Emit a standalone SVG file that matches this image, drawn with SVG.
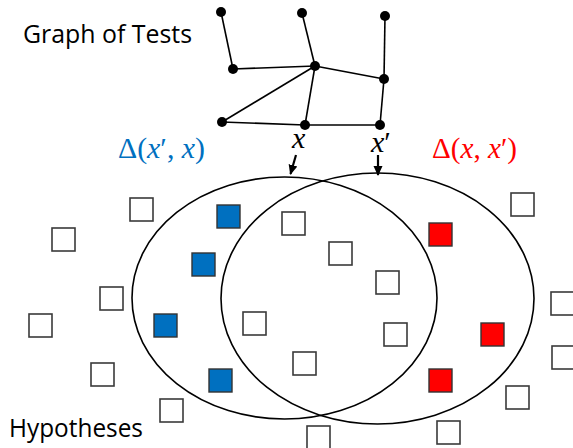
<svg xmlns="http://www.w3.org/2000/svg" width="573" height="448" viewBox="0 0 573 448">
<style>
.lbl{font-family:"Open Sans","Liberation Sans",sans-serif;font-size:25px;fill:#000}
.math{font-family:"Liberation Serif","DejaVu Serif",serif;font-size:30px}
.it{font-style:italic}
.edge{stroke:#000;stroke-width:1.6;fill:none}
.arr{stroke:#000;stroke-width:2.2;fill:none}
.gn{fill:#000}
.sq{fill:#fff;stroke:#3a3a3a;stroke-width:1.6}
.sqb{fill:#0070C0;stroke:#333;stroke-width:1.4}
.sqr{fill:#FF0000;stroke:#333;stroke-width:1.4}
.ell{fill:none;stroke:#000;stroke-width:1.6}
</style>
<defs>
<marker id="ah" viewBox="0 0 10 10" refX="9" refY="5" markerWidth="10" markerHeight="10" orient="auto" markerUnits="userSpaceOnUse">
<path d="M0,0.5 L10,5 L0,9.5 z" fill="#000"/>
</marker>
</defs>
<rect width="573" height="448" fill="#fff"/>

<g id="title"><text class="lbl" x="23" y="43" textLength="169" lengthAdjust="spacingAndGlyphs">Graph of Tests</text></g>
<g id="hyp-label"><text class="lbl" x="9" y="437" textLength="134" lengthAdjust="spacingAndGlyphs">Hypotheses</text></g>

<g id="ellipse-left"><ellipse class="ell" cx="284.5" cy="298" rx="152.5" ry="121"/></g>
<g id="ellipse-right"><ellipse class="ell" cx="377.5" cy="298.5" rx="156.5" ry="125.5"/></g>

<g id="connectors">
<line class="edge" x1="221" y1="12" x2="233" y2="69"/>
<line class="edge" x1="302" y1="13" x2="315" y2="66"/>
<line class="edge" x1="385" y1="16" x2="384" y2="79"/>
<line class="edge" x1="233" y1="69" x2="315" y2="66"/>
<line class="edge" x1="315" y1="66" x2="384" y2="79"/>
<line class="edge" x1="315" y1="66" x2="222" y2="122"/>
<line class="edge" x1="315" y1="66" x2="305" y2="125"/>
<line class="edge" x1="222" y1="122" x2="305" y2="125"/>
<line class="edge" x1="305" y1="125" x2="380" y2="125"/>
<line class="edge" x1="384" y1="79" x2="380" y2="125"/>
<line class="arr" x1="296" y1="155" x2="290.5" y2="174" marker-end="url(#ah)"/>
<line class="arr" x1="378" y1="155" x2="378" y2="175" marker-end="url(#ah)"/>
</g>

<g id="graph-nodes">
<g id="n1"><circle class="gn" cx="221" cy="12" r="5"/></g>
<g id="n2"><circle class="gn" cx="302" cy="13" r="5"/></g>
<g id="n3"><circle class="gn" cx="385" cy="16" r="5"/></g>
<g id="n4"><circle class="gn" cx="233" cy="69" r="5"/></g>
<g id="n5"><circle class="gn" cx="315" cy="66" r="5"/></g>
<g id="n6"><circle class="gn" cx="384" cy="79" r="5"/></g>
<g id="n7"><circle class="gn" cx="222" cy="122" r="5"/></g>
<g id="n8"><circle class="gn" cx="305" cy="125" r="5"/></g>
<g id="n9"><circle class="gn" cx="380" cy="125" r="5"/></g>
</g>

<g id="label-x"><text class="math it" x="292" y="148" font-size="30">x</text></g>
<g id="label-xp"><text class="math" x="371" y="152" font-size="30"><tspan class="it">x</tspan>′</text></g>

<g id="delta-blue"><text class="math" x="118" y="158" fill="#0070C0" textLength="87" lengthAdjust="spacingAndGlyphs">Δ(<tspan class="it">x</tspan>′, <tspan class="it">x</tspan>)</text></g>
<g id="delta-red"><text class="math" x="432" y="158" fill="#FF0000" textLength="85" lengthAdjust="spacingAndGlyphs">Δ(<tspan class="it">x</tspan>, <tspan class="it">x</tspan>′)</text></g>

<g id="hypotheses">
<g id="h1"><rect class="sq" x="130" y="198" width="23" height="23"/></g>
<g id="h2"><rect class="sq" x="52" y="228" width="23" height="23"/></g>
<g id="h3"><rect class="sq" x="100" y="287" width="23" height="23"/></g>
<g id="h4"><rect class="sq" x="29" y="314" width="23" height="23"/></g>
<g id="h5"><rect class="sq" x="91" y="363" width="23" height="23"/></g>
<g id="h6"><rect class="sq" x="160" y="399" width="23" height="23"/></g>
<g id="b1"><rect class="sqb" x="217" y="205" width="23" height="23"/></g>
<g id="b2"><rect class="sqb" x="192" y="253" width="23" height="23"/></g>
<g id="b3"><rect class="sqb" x="154" y="314" width="23" height="23"/></g>
<g id="b4"><rect class="sqb" x="209" y="369" width="23" height="23"/></g>
<g id="h7"><rect class="sq" x="243" y="312" width="23" height="23"/></g>
<g id="h8"><rect class="sq" x="282" y="212" width="23" height="23"/></g>
<g id="h9"><rect class="sq" x="329" y="242" width="23" height="23"/></g>
<g id="h10"><rect class="sq" x="376" y="271" width="23" height="23"/></g>
<g id="h11"><rect class="sq" x="384" y="323" width="23" height="23"/></g>
<g id="h12"><rect class="sq" x="293" y="352" width="23" height="23"/></g>
<g id="h13"><rect class="sq" x="307" y="426" width="23" height="23"/></g>
<g id="r1"><rect class="sqr" x="429" y="223" width="23" height="23"/></g>
<g id="r2"><rect class="sqr" x="481" y="323" width="23" height="23"/></g>
<g id="r3"><rect class="sqr" x="429" y="369" width="23" height="23"/></g>
<g id="h14"><rect class="sq" x="511" y="193" width="23" height="23"/></g>
<g id="h15"><rect class="sq" x="551" y="292" width="23" height="23"/></g>
<g id="h16"><rect class="sq" x="552" y="346" width="23" height="23"/></g>
<g id="h17"><rect class="sq" x="506" y="386" width="23" height="23"/></g>
<g id="h18"><rect class="sq" x="437" y="421" width="23" height="23"/></g>
</g>
</svg>
